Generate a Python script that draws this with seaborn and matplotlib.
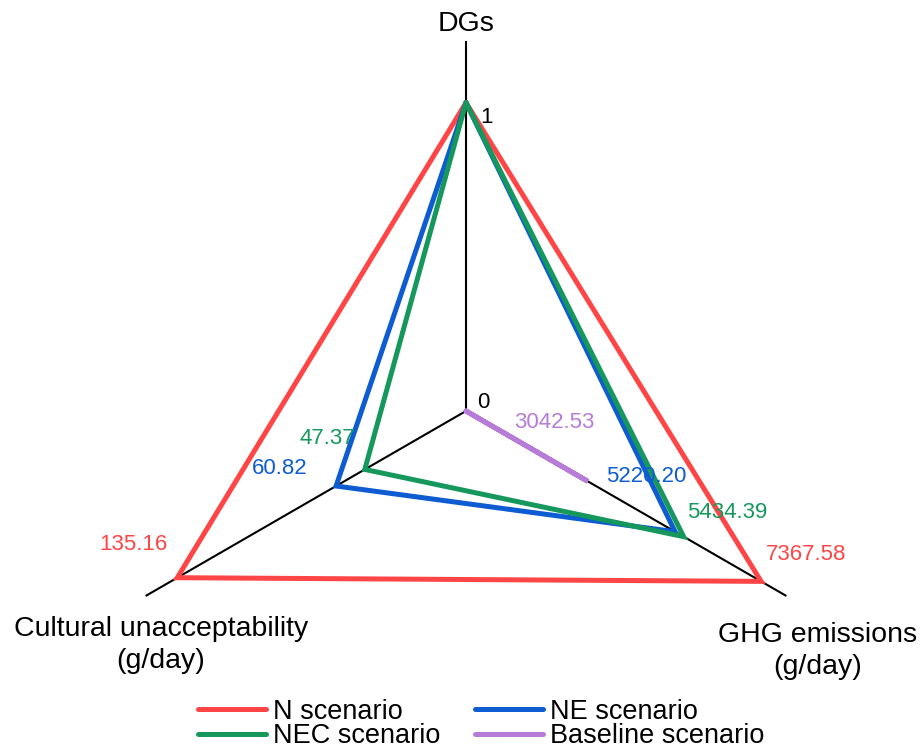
import numpy as np
import pandas as pd
import matplotlib
matplotlib.use("Agg")
import matplotlib.pyplot as plt
from matplotlib.lines import Line2D
import seaborn as sns

# Indicators (axes of the radar) and their scale maxima
indicators = ["DGs", "Cultural unacceptability\n(g/day)", "GHG emissions\n(g/day)"]
axis_max = [1.2, 150.0, 8000.0]

# Scenario values in indicator order: DGs, cultural unacceptability, GHG emissions
scenarios = ["N scenario", "NE scenario", "NEC scenario", "Baseline scenario"]
n_values = [1, 135.16, 7367.58]
ne_values = [1, 60.82, 5220.20]
nec_values = [1, 47.37, 5434.39]
baseline_values = [0, 0, 3042.53]

colors = {
    "N scenario": "#FF4545",
    "NE scenario": "#0D5CD2",
    "NEC scenario": "#16985C",
    "Baseline scenario": "#B77CD8",
}

sns.set_theme(style="white")
plt.rcParams["font.family"] = ["Liberation Sans", "DejaVu Sans"]
plt.rcParams["text.color"] = "black"

W, H = 921, 750
fig = plt.figure(figsize=(W / 100, H / 100), dpi=100)
cx, cy, R = 466, 411, 370
ax = fig.add_axes([(cx - R) / W, (H - cy - R) / H, 2 * R / W, 2 * R / H],
                  projection="polar")
ax.set_theta_offset(np.pi / 2)
ax.set_ylim(0, 1)
ax.set_axis_off()

thetas = [0, 2 * np.pi / 3, 4 * np.pi / 3]

# Axis spokes
for t in thetas:
    ax.plot([t, t], [0, 1], color="black", lw=1.5, zorder=1)

# Long-form table of closed polygons, values normalised by axis maxima
series = {
    "N scenario": n_values,
    "NE scenario": ne_values,
    "NEC scenario": nec_values,
    "Baseline scenario": baseline_values,
}
rows = []
for name, vals in series.items():
    pts = [(t, v / m) for t, v, m in zip(thetas, vals, axis_max)]
    pts.append((2 * np.pi, pts[0][1]))
    for i, (t, r) in enumerate(pts):
        rows.append({"scenario": name, "theta": t, "r": r, "order": i})
df = pd.DataFrame(rows)

sns.lineplot(data=df, x="theta", y="r", hue="scenario", hue_order=scenarios,
             palette=colors, sort=False, estimator=None, units="scenario",
             ax=ax, linewidth=3.6, solid_joinstyle="miter",
             solid_capstyle="round", legend=False, zorder=2)

# Value labels next to each vertex
label_font = 16
value_offsets = {
    "N scenario": [None, (-44, 33), (45, 27)],
    "NE scenario": [None, (-56, 18), (-29, 55)],
    "NEC scenario": [None, (-37, 31), (44, 24)],
    "Baseline scenario": [None, None, (-34, 59)],
}
for name, vals in series.items():
    for t, v, m, off in zip(thetas, vals, axis_max, value_offsets[name]):
        if off is None:
            continue
        ax.annotate(f"{v:.2f}", xy=(t, v / m), xytext=off,
                    textcoords="offset pixels", ha="center", va="center",
                    fontsize=label_font, color=colors[name])

# Scale marks on the DGs axis
ax.annotate("0", xy=(0, 0), xytext=(17, 8), textcoords="offset pixels",
            ha="center", va="center", fontsize=label_font, color="black")
ax.annotate("1", xy=(0, 1 / axis_max[0]), xytext=(20, -15),
            textcoords="offset pixels", ha="center", va="center",
            fontsize=label_font, color="black")

# Indicator names
title_font = 20.5
fig.text(466 / W, 1 - 24 / H, indicators[0], ha="center", va="center",
         fontsize=title_font)
fig.text(161 / W, 1 - 645 / H, indicators[1], ha="center", va="center",
         fontsize=title_font, linespacing=1.25)
fig.text(818 / W, 1 - 651 / H, indicators[2], ha="center", va="center",
         fontsize=title_font, linespacing=1.25)

# Legend in two columns
order = ["N scenario", "NEC scenario", "NE scenario", "Baseline scenario"]
handles = [Line2D([], [], color=colors[s], lw=3.6, solid_capstyle="round")
           for s in order]
fig.legend(handles, order, loc="center", ncol=2,
           bbox_to_anchor=(481 / W, 1 - 724 / H), frameon=False,
           fontsize=19.5, handlelength=2.5, handletextpad=0.25,
           columnspacing=1.3, labelspacing=-0.05, borderpad=0)

fig.savefig("out.png", dpi=100)
